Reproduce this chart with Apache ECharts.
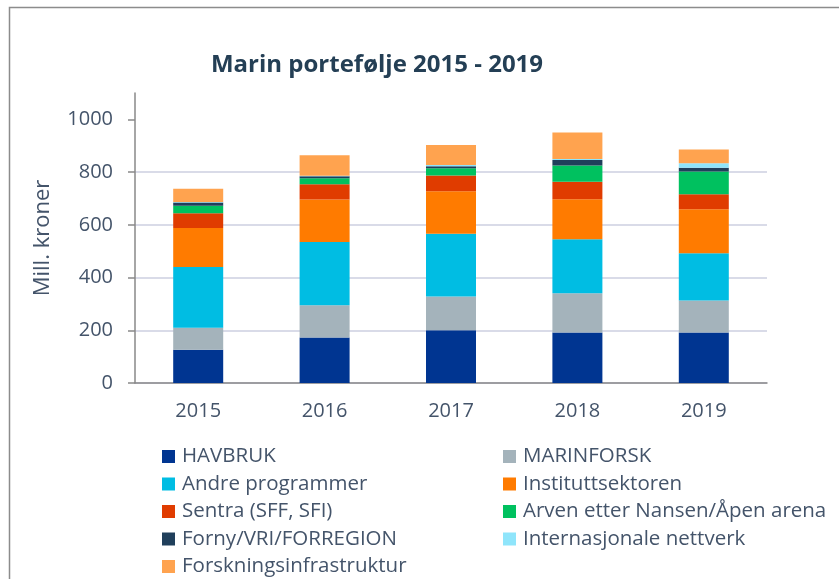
<!DOCTYPE html>
<html>
<head>
<meta charset="utf-8">
<script src="https://cdn.jsdelivr.net/npm/echarts@6/dist/echarts.min.js"></script>
<style>
html,body{margin:0;padding:0;background:#fff;}
#chart{width:839px;height:579px;}
</style>
</head>
<body>
<div id="chart"></div>
<script>
const categories = ['2015', '2016', '2017', '2018', '2019'];
const yTicks = [0, 200, 400, 600, 800, 1000];

const havbruk        = [126, 173, 200, 192, 192];
const marinforsk     = [84, 122, 128, 148, 121];
const andre          = [230, 240, 238, 205, 179];
const institutt      = [148, 161, 161, 152, 167];
const sentra         = [56, 58, 60, 66, 57];
const arven          = [28, 23, 28, 62, 86];
const forny          = [13, 7, 7, 21, 14];
const internasjonale = [2, 2, 5, 4, 18];
const infrastruktur  = [50, 78, 76, 100, 52];

const seriesDefs = [
  ['HAVBRUK', havbruk, '#003591'],
  ['MARINFORSK', marinforsk, '#a4b3bb'],
  ['Andre programmer', andre, '#00bde3'],
  ['Instituttsektoren', institutt, '#ff7b00'],
  ['Sentra (SFF, SFI)', sentra, '#e03c00'],
  ['Arven etter Nansen/Åpen arena', arven, '#00c15f'],
  ['Forny/VRI/FORREGION', forny, '#203f5b'],
  ['Internasjonale nettverk', internasjonale, '#8fe5fb'],
  ['Forskningsinfrastruktur', infrastruktur, '#ffa34f']
];

const FONT = 'Open Sans';
const TXT = '#44546a';

const chart = echarts.init(document.getElementById('chart'));
const legendText = {fontFamily: FONT, fontSize: 20.5, color: TXT, lineHeight: 20, padding: [0, 0, 0, 2]};
chart.setOption({
  animation: false,
  backgroundColor: '#fff',
  color: seriesDefs.map(d => d[2]),
  title: {
    text: 'Marin portefølje 2015 - 2019',
    left: 377, top: 53, textAlign: 'center', padding: 0,
    textStyle: {fontFamily: FONT, fontSize: 24, fontWeight: 'bold', color: '#243f55'}
  },
  graphic: [
    {type: 'polyline', shape: {points: [[9.5, 579], [9.5, 7.5], [839, 7.5]]},
     style: {stroke: '#8c8c8c', lineWidth: 1.5, fill: null}, silent: true}
  ],
  legend: [
    {orient: 'vertical', left: 162, top: 446, height: 140, padding: 0,
     itemWidth: 13, itemHeight: 13, itemGap: 6.5,
     icon: 'rect', textStyle: legendText,
     data: [0, 2, 4, 6, 8].map(i => seriesDefs[i][0])},
    {orient: 'vertical', left: 503, top: 446, height: 140, padding: 0,
     itemWidth: 13, itemHeight: 13, itemGap: 6.5,
     icon: 'rect', textStyle: legendText,
     data: [1, 3, 5, 7].map(i => seriesDefs[i][0])}
  ],
  grid: {left: 135, right: 72, top: 93, bottom: 196, containLabel: false},
  xAxis: {
    type: 'category', data: categories,
    axisLine: {lineStyle: {color: '#898989', width: 1.5}},
    axisTick: {show: false},
    axisLabel: {fontFamily: FONT, fontSize: 20, color: TXT, margin: 18}
  },
  yAxis: {
    type: 'value', min: 0, max: 1100,
    name: 'Mill. kroner', nameLocation: 'middle', nameGap: 81, nameRotate: 90,
    nameTextStyle: {fontFamily: FONT, fontSize: 22, color: TXT},
    axisLine: {show: true, lineStyle: {color: '#898989', width: 1.5}},
    axisTick: {show: true, length: 7, lineStyle: {color: '#898989', width: 1.5}, customValues: yTicks},
    axisLabel: {fontFamily: FONT, fontSize: 20, color: TXT, margin: 22, customValues: yTicks,
                formatter: v => String(v)},
    splitLine: {show: true, showMaxLine: false, lineStyle: {color: '#d9dbe8', width: 2}}
  },
  series: seriesDefs.map(d => ({
    name: d[0], type: 'bar', stack: 'total', data: d[1], barWidth: 50,
    itemStyle: {color: d[2]}
  }))
});
</script>
</body>
</html>
